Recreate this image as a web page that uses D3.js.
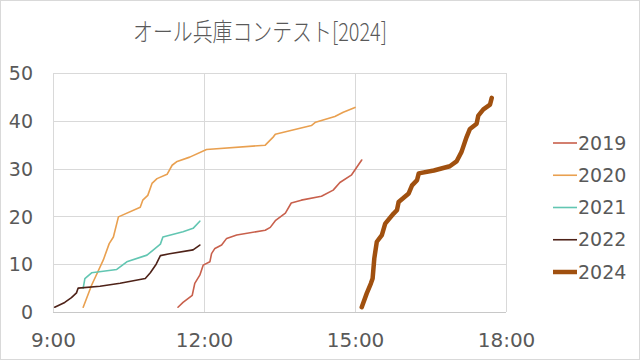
<!DOCTYPE html>
<html><head><meta charset="utf-8">
<script src="https://cdn.jsdelivr.net/npm/d3@7"></script>
<style>body{margin:0;background:#fff}svg{display:block}</style>
</head><body>
<svg id="c" width="640" height="360"></svg>
<script>
const title = "オール兵庫コンテスト[2024]";
const seriesNames = ["2019","2020","2021","2022","2024"];
const xTicks = ["9:00","12:00","15:00","18:00"];
const yTicks = [0,10,20,30,40,50];

const t2019 = ["11:29","11:35","11:46","11:49","11:55","11:59","12:07","12:09","12:13","12:21","12:27","12:39","13:13","13:19","13:25","13:37","13:44","13:56","14:20","14:34","14:42","14:56","15:08"];
const v2019 = [1,2,3.5,6,7.7,9.8,10.5,12.2,13.3,14,15.4,16.1,17.1,17.7,19.1,20.7,22.8,23.4,24.2,25.5,27.1,28.7,31.8];

const t2020 = ["9:36","9:46","10:00","10:07","10:12","10:18","10:44","10:47","10:53","10:58","11:04","11:16","11:22","11:28","11:43","12:03","13:13","13:23","13:25","14:08","14:13","14:36","14:46","15:00"];
const v2020 = [1,5.6,10.9,14.3,15.7,19.9,21.9,23.4,24.4,26.9,27.9,28.8,30.7,31.5,32.4,34,34.9,36.7,37.2,39,39.7,40.9,41.8,42.8];

const t2021 = ["9:36","9:38","9:46","10:16","10:28","10:52","10:59","11:08","11:11","11:35","11:47","11:55"];
const v2021 = [5,7,8.2,8.9,10.5,11.9,12.9,14.2,15.7,16.8,17.5,19];

const t2022 = ["9:02","9:14","9:22","9:28","9:30","9:56","10:20","10:50","10:56","11:03","11:08","11:19","11:47","11:55"];
const v2022 = [1,2,3,4,5,5.4,6,7,8.2,10,11.8,12.2,13,14];

const t2024 = ["15:08","15:14","15:19","15:21","15:23","15:26","15:32","15:36","15:46","15:50","15:52","16:04","16:08","16:14","16:16","16:34","16:53","17:01","17:07","17:13","17:17","17:25","17:27","17:33","17:41","17:43"];
const v2024 = [1,3.9,6,7,11.2,14.7,16.1,18.5,20.6,21.3,23,24.8,26.5,27.6,29,29.6,30.5,31.5,33.5,36.6,38.3,39.4,41.1,42.4,43.4,44.8];

const colors = ["#c8604c","#e9a050","#62c6b2","#4e2218","#a0500f"];
const widths = [1.6,1.6,1.6,1.6,4.5];

const toH = s => { const [h,m] = s.split(":").map(Number); return h + m/60; };
const raw = [[t2019,v2019],[t2020,v2020],[t2021,v2021],[t2022,v2022],[t2024,v2024]];
const data = raw.map(([t,v]) => t.map((s,i)=>({x:toH(s), y:v[i]})));

const svg = d3.select("#c");
const font = "'DejaVu Sans', Verdana, sans-serif";
svg.append("rect").attr("x",0.5).attr("y",0.5).attr("width",639).attr("height",359)
  .attr("fill","#fff").attr("stroke","#d9d9d9");

const x = d3.scaleLinear().domain([9,18]).range([53,506]);
const y = d3.scaleLinear().domain([0,50]).range([312,73]);

// grid
svg.append("g").selectAll("line").data(yTicks).join("line")
  .attr("x1",x(9)).attr("x2",x(18)).attr("y1",d=>Math.round(y(d))+0.5).attr("y2",d=>Math.round(y(d))+0.5)
  .attr("stroke",d=>d===0?"#c8c8c8":"#d9d9d9").attr("stroke-width",1);
svg.append("g").selectAll("line").data(xTicks.map(toH)).join("line")
  .attr("x1",d=>Math.round(x(d))+0.5).attr("x2",d=>Math.round(x(d))+0.5).attr("y1",y(50)).attr("y2",y(0))
  .attr("stroke","#d9d9d9").attr("stroke-width",1);

// axes labels
const xAxis = d3.axisBottom(x).tickValues(xTicks.map(toH)).tickFormat((d,i)=>xTicks[i]).tickSize(0).tickPadding(0);
const gx = svg.append("g").attr("transform","translate(0,340)").call(xAxis);
gx.select(".domain").remove();
gx.selectAll("text").attr("font-family",font).attr("font-size",20).attr("fill","#595959").attr("dy","0.35em").attr("y",0);

const yAxis = d3.axisLeft(y).tickValues(yTicks).tickSize(0).tickPadding(0);
const gy = svg.append("g").attr("transform","translate(33,0)").call(yAxis);
gy.select(".domain").remove();
gy.selectAll("text").attr("font-family",font).attr("font-size",19).attr("fill","#595959").attr("dy","0.35em").attr("x",0);

// lines
const line = d3.line().x(d=>x(d.x)).y(d=>y(d.y));
svg.append("g").selectAll("path").data(data).join("path")
  .attr("d",line).attr("fill","none")
  .attr("stroke",(d,i)=>colors[i]).attr("stroke-width",(d,i)=>widths[i])
  .attr("stroke-linejoin","round").attr("stroke-linecap","round");

// title
svg.append("text").attr("x",260).attr("y",34).attr("text-anchor","middle").attr("dominant-baseline","middle")
  .attr("font-family","'Noto Sans CJK JP', sans-serif").attr("font-size",25).attr("font-weight",300)
  .attr("textLength",254).attr("lengthAdjust","spacingAndGlyphs")
  .attr("fill","#595959").text(title);

// legend
const legY = d3.scalePoint().domain(seriesNames).range([143,272]);
const lg = svg.append("g").selectAll("g").data(seriesNames).join("g")
  .attr("transform",d=>`translate(0,${legY(d)})`);
lg.append("line").attr("x1",553).attr("x2",577).attr("y1",0).attr("y2",0)
  .attr("stroke",(d,i)=>colors[i]).attr("stroke-width",(d,i)=>widths[i]);
lg.append("text").attr("x",578).attr("y",0).attr("dy","0.35em")
  .attr("font-family",font).attr("font-size",19).attr("fill","#595959").text(d=>d);
</script>
</body></html>
